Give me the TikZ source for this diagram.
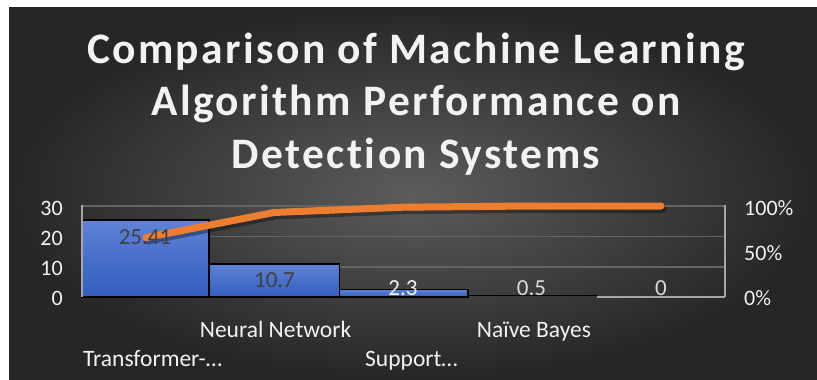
\documentclass[tikz,border=0pt]{standalone}
\usepackage{fontspec}
\setmainfont{Carlito}[Ligatures=NoCommon]
\newfontfamily\titlefont{Carlito}[LetterSpace=5.5,Ligatures=NoCommon]
\definecolor{bgin}{RGB}{92,92,92}
\definecolor{bgout}{RGB}{38,38,38}
\definecolor{gridc}{RGB}{100,100,100}
\definecolor{axisc}{RGB}{166,166,166}
\definecolor{bartop}{RGB}{94,130,214}
\definecolor{barbot}{RGB}{50,94,190}
\definecolor{lineor}{RGB}{237,125,49}
\definecolor{txtw}{RGB}{242,242,242}
\definecolor{txtl}{RGB}{217,217,217}
\definecolor{txtd}{RGB}{64,64,64}
\begin{document}
\begin{tikzpicture}[x=1pt,y=-1pt,
  titletext/.style={font=\titlefont\bfseries\fontsize{43.5}{52}\selectfont, text=txtw, anchor=base, inner sep=0pt},
  axlab/.style={font=\fontsize{22}{26}\selectfont, text=txtw, inner sep=0pt},
  catlab/.style={font=\fontsize{23.5}{28}\selectfont, text=txtw, inner sep=0pt, anchor=base},
  datlab/.style={font=\fontsize{23}{27}\selectfont, inner sep=0pt, anchor=base},
  gridline/.style={draw=gridc, line width=1.2pt},
  axisline/.style={draw=axisc, line width=1.8pt},
  barbox/.style={top color=bartop, bottom color=barbot, draw=black, line width=1.8pt},
  cumline/.style={draw=lineor, line width=7pt, line cap=round, line join=round},
  cumshadow/.style={draw=black, opacity=0.35, line width=8pt, line cap=round, line join=round}
]
\useasboundingbox (0,0) rectangle (817,380);
\fill[white] (0,0) rectangle (817,380);
\shade[inner color=bgin, outer color=bgout] (9,7) rectangle (817,380);

% title
\node[titletext] (t1) at (416,63) {Comparison of Machine Learning};
\node[titletext] (t2) at (416,115.5) {Algorithm Performance on};
\node[titletext] (t3) at (416,168) {Detection Systems};

% gridlines
\coordinate (g30l) at (82,206);   \coordinate (g30r) at (725,206);
\coordinate (g20l) at (82,236.5); \coordinate (g20r) at (725,236.5);
\coordinate (g10l) at (82,267);   \coordinate (g10r) at (725,267);
\draw[gridline] (g30l) -- (g30r);
\draw[gridline] (g20l) -- (g20r);
\draw[gridline] (g10l) -- (g10r);

% bars
\path[barbox] (82,220) rectangle (209.3,297);
\path[barbox] (209.3,264.3) rectangle (339.5,297);
\path[barbox] (339.5,289.5) rectangle (467.7,297);
\draw[black, line width=1.8pt] (467.7,295.5) -- (596.7,295.5);

% axes
\coordinate (axbl) at (82,297); \coordinate (axbr) at (725,297);
\coordinate (axtl) at (82,204.5); \coordinate (axtr) at (725,204.5);
\coordinate (axmid) at (596.7,297);
\draw[axisline] (axtl) -- (axbl);
\draw[axisline] (axtr) -- (axbr);
\draw[axisline] (axmid) -- (axbr);

% cumulative line
\coordinate (p1) at (146,237.6);
\coordinate (p2) at (274,212.5);
\coordinate (p3) at (403,207.2);
\coordinate (p4) at (532,206);
\coordinate (p5) at (661,206);
\draw[cumshadow, transform canvas={shift={(1.5pt,-3pt)}}] (p1) -- (p2) -- (p3) -- (p4) -- (p5);
\draw[cumline] (p1) -- (p2) -- (p3) -- (p4) -- (p5);

% data labels
\node[datlab, text=txtd] (d1) at (145,244) {25.41};
\node[datlab, text=txtd] (d2) at (274.5,287.7) {10.7};
\node[datlab, text=txtw] (d3) at (403,295) {2.3};
\node[datlab, text=txtl] (d4) at (531.5,295) {0.5};
\node[datlab, text=txtl] (d5) at (661,295) {0};

% left axis labels
\node[axlab, anchor=base east] (l30) at (63,215.5) {30};
\node[axlab, anchor=base east] (l20) at (63,245.5) {20};
\node[axlab, anchor=base east] (l10) at (63,275.8) {10};
\node[axlab, anchor=base east] (l0) at (63,305.5) {0};

% right axis labels
\node[axlab, anchor=base west] (r100) at (744,215) {100\%};
\node[axlab, anchor=base west] (r50) at (744,260) {50\%};
\node[axlab, anchor=base west] (r0) at (744,305) {0\%};

% category labels
\node[catlab] (c2) at (275.5,337.7) {Neural Network};
\node[catlab] (c4) at (534,337.7) {Naïve Bayes};
\node[catlab, anchor=base west] (c1) at (83,366.7) {Transformer-…};
\node[catlab, anchor=base west] (c3) at (365,366.7) {Support…};
\end{tikzpicture}
\end{document}
